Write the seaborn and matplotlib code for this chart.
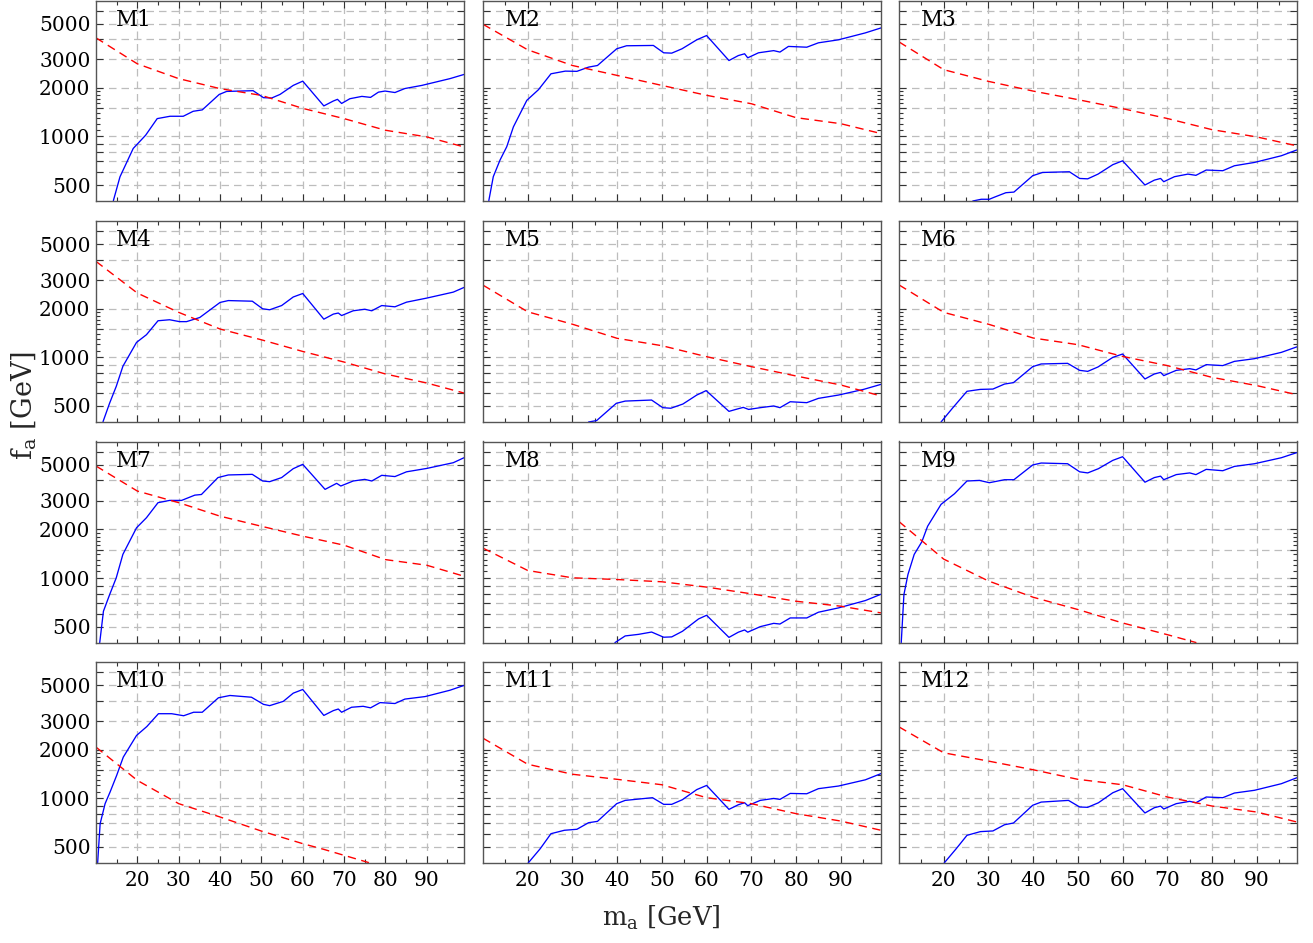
import matplotlib
matplotlib.use("Agg")
import matplotlib.pyplot as plt
import seaborn as sns
from matplotlib.ticker import FixedLocator, FixedFormatter, NullFormatter

sns.set_style("ticks")
plt.rcParams["font.family"] = ["DejaVu Serif"]
plt.rcParams["mathtext.fontset"] = "dejavuserif"

# ---------------- data ----------------
panel_names = ["M1", "M2", "M3", "M4", "M5", "M6", "M7", "M8", "M9", "M10", "M11", "M12"]

# blue solid curves
ma_M1 = [14.2, 15.8, 19.0, 22.0, 24.8, 27.9, 31.1, 33.5, 35.7, 39.8, 41.6, 48.0, 50.5, 52.5, 54.5, 57.7, 60.0,
         65.1, 67.4, 68.4, 69.4, 71.4, 74.3, 76.4, 78.3, 79.9, 82.3, 84.7, 88.8, 95.6, 99.0]
fa_M1 = [400, 562, 842, 1017, 1289, 1333, 1333, 1431, 1460, 1820, 1900, 1920, 1738, 1730, 1820, 2070, 2200,
         1545, 1657, 1697, 1600, 1712, 1770, 1745, 1880, 1910, 1870, 1980, 2070, 2280, 2420]

ma_M2 = [11.3, 12.3, 13.8, 15.3, 16.8, 19.8, 22.4, 25.2, 28.4, 31.0, 33.6, 35.6, 39.9, 42.1, 48.1, 50.4, 52.2,
         54.5, 57.8, 60.0, 65.0, 67.1, 68.5, 69.2, 71.6, 75.0, 76.4, 78.3, 82.4, 85.0, 89.5, 95.5, 99.0]
fa_M2 = [400, 563, 713, 862, 1146, 1673, 1947, 2443, 2538, 2530, 2687, 2750, 3490, 3644, 3660, 3296, 3280,
         3490, 3967, 4216, 2952, 3169, 3250, 3068, 3296, 3400, 3330, 3610, 3570, 3800, 3967, 4379, 4700]

ma_M3 = [26.5, 28.4, 30.2, 31.3, 33.9, 35.7, 39.9, 42.1, 48.1, 50.4, 52.2, 54.5, 57.8, 60.0, 65.0, 67.1, 68.5,
         69.2, 71.6, 74.6, 76.4, 78.7, 82.4, 85.0, 89.5, 95.5, 99.0]
fa_M3 = [398, 408, 408, 420, 448, 452, 571, 598, 604, 549, 546, 584, 668, 706, 500, 536, 549,
         524, 563, 584, 574, 619, 613, 658, 690, 759, 825]

ma_M4 = [11.7, 13.3, 14.9, 16.5, 19.8, 22.2, 25.0, 27.8, 30.2, 31.9, 35.1, 40.0, 42.0, 47.8, 50.3, 52.0, 54.9,
         57.7, 60.0, 65.1, 67.4, 68.6, 69.4, 72.2, 75.0, 76.7, 79.1, 82.3, 85.1, 90.0, 96.4, 99.0]
fa_M4 = [400, 521, 661, 879, 1235, 1378, 1681, 1705, 1660, 1660, 1761, 2181, 2240, 2220, 1993, 1965, 2087,
         2357, 2477, 1719, 1848, 1876, 1810, 1937, 1980, 1937, 2087, 2050, 2190, 2321, 2526, 2700]

ma_M5 = [33.6, 35.4, 39.8, 41.8, 47.7, 50.2, 52.0, 54.7, 57.8, 59.9, 65.0, 67.0, 68.2, 69.4, 72.0, 75.0, 76.4,
         78.7, 82.4, 85.0, 89.5, 95.1, 99.0]
fa_M5 = [398, 406, 519, 536, 544, 488, 484, 514, 584, 622, 463, 480, 490, 476, 488, 500, 488,
         531, 524, 557, 584, 633, 680]

ma_M6 = [19.4, 22.0, 25.2, 28.2, 31.0, 33.6, 35.6, 39.9, 41.8, 47.7, 50.4, 52.2, 54.5, 57.8, 60.0, 65.0, 67.1,
         68.5, 69.2, 72.0, 75.0, 76.4, 78.7, 82.4, 85.0, 89.5, 95.5, 99.0]
fa_M6 = [398, 486, 616, 633, 636, 683, 697, 875, 909, 917, 830, 818, 871, 998, 1047, 734, 788,
         806, 770, 830, 850, 835, 900, 888, 943, 980, 1072, 1160]

ma_M7 = [10.9, 11.8, 13.3, 14.9, 16.5, 19.8, 22.2, 25.0, 27.8, 30.7, 33.9, 35.5, 39.5, 42.0, 47.8, 50.3, 52.0,
         54.9, 57.7, 60.0, 65.4, 68.2, 69.2, 72.2, 75.0, 76.7, 79.1, 82.3, 85.1, 90.0, 96.4, 99.0]
fa_M7 = [400, 625, 791, 1004, 1400, 2042, 2355, 2917, 3012, 3012, 3246, 3276, 4165, 4323, 4360, 3967, 3930,
         4165, 4726, 5024, 3523, 3838, 3695, 3967, 4060, 3967, 4300, 4225, 4520, 4743, 5143, 5520]

ma_M8 = [39.5, 41.8, 44.8, 47.7, 50.4, 52.2, 54.6, 58.2, 60.0, 65.0, 67.1, 68.5, 69.2, 72.0, 75.0, 76.4, 78.7,
         82.4, 85.0, 89.5, 95.5, 99.0]
fa_M8 = [400, 440, 450, 465, 432, 434, 470, 560, 590, 431, 464, 479, 464, 502, 526, 521, 568,
         568, 616, 655, 727, 795]

ma_M9 = [10.5, 11.1, 12.0, 13.4, 15.1, 16.4, 19.4, 22.4, 25.2, 28.0, 30.2, 33.6, 35.7, 39.9, 41.8, 47.7, 50.4,
         52.2, 54.6, 57.8, 60.0, 65.0, 67.1, 68.5, 69.2, 72.0, 75.0, 76.4, 78.7, 82.4, 85.0, 89.5, 95.5, 99.0]
fa_M9 = [400, 791, 1052, 1400, 1673, 2087, 2847, 3309, 3967, 4000, 3872, 4040, 4040, 4980, 5120, 5070, 4520,
         4450, 4726, 5316, 5600, 3900, 4165, 4250, 4040, 4344, 4450, 4344, 4680, 4590, 4880, 5070, 5520, 5940]

ma_M10 = [10.4, 11.0, 12.2, 13.4, 15.0, 16.6, 19.8, 22.3, 25.1, 28.3, 31.2, 33.6, 35.7, 39.6, 42.4, 47.6, 50.5,
          52.0, 55.3, 57.7, 60.0, 65.1, 67.4, 68.6, 69.4, 71.8, 74.6, 76.4, 78.7, 82.3, 84.7, 89.6, 95.6, 99.0]
fa_M10 = [400, 696, 926, 1092, 1385, 1796, 2443, 2775, 3330, 3330, 3235, 3400, 3400, 4176, 4316, 4210, 3805,
          3735, 3970, 4460, 4700, 3250, 3480, 3560, 3400, 3650, 3700, 3620, 3900, 3850, 4100, 4250, 4650, 4980]

ma_M11 = [20.1, 22.8, 25.2, 28.2, 31.0, 33.6, 35.6, 39.9, 41.8, 47.9, 50.4, 52.2, 54.6, 57.8, 60.0, 65.0, 67.1,
          68.5, 69.2, 72.0, 75.0, 76.4, 78.7, 82.4, 85.0, 89.5, 95.5, 99.0]
fa_M11 = [398, 488, 604, 634, 643, 706, 720, 926, 970, 1008, 917, 917, 980, 1131, 1200, 854, 912,
          938, 900, 970, 997, 984, 1071, 1066, 1146, 1190, 1300, 1420]

ma_M12 = [20.1, 22.8, 25.2, 28.2, 31.0, 33.6, 35.6, 39.9, 41.8, 47.9, 50.4, 52.2, 54.6, 57.8, 60.0, 65.0, 67.1,
          68.5, 69.2, 72.0, 75.0, 76.4, 78.7, 82.4, 85.0, 89.5, 95.5, 99.0]
fa_M12 = [398, 488, 590, 622, 628, 686, 703, 905, 947, 970, 883, 879, 938, 1081, 1146, 811, 874,
          894, 858, 926, 957, 938, 1018, 1008, 1077, 1120, 1230, 1340]

# red dashed curves
ma_red = [10, 20, 30, 40, 50, 60, 70, 80, 90, 99]
red_M1 = [4080, 2816, 2280, 1977, 1796, 1492, 1289, 1092, 993, 861]
red_M2 = [4950, 3440, 2750, 2387, 2070, 1797, 1594, 1307, 1199, 1042]
red_M3 = [3850, 2591, 2193, 1909, 1690, 1486, 1291, 1101, 993, 874]
red_M4 = [3911, 2492, 1894, 1494, 1282, 1086, 934, 788, 693, 601]
red_M5 = [2790, 1909, 1600, 1309, 1179, 1008, 875, 766, 674, 576]
red_M6 = [2800, 1894, 1600, 1315, 1196, 1012, 888, 751, 668, 587]
red_M7 = [4906, 3440, 2917, 2408, 2087, 1814, 1595, 1300, 1200, 1027]
red_M8 = [1530, 1114, 1004, 980, 949, 880, 800, 720, 671, 610]
ma_red_M9 = [10, 20, 30, 40, 50, 60, 70, 76.5]
red_M9 = [2230, 1309, 960, 762, 640, 529, 448, 400]
ma_red_M10 = [10, 20, 30, 40, 50, 60, 65, 76]
red_M10 = [2070, 1289, 926, 766, 627, 524, 484, 400]
red_M11 = [2350, 1622, 1407, 1309, 1212, 1008, 926, 803, 723, 634]
red_M12 = [2760, 1909, 1697, 1500, 1309, 1212, 1018, 895, 822, 713]

blue_x = [ma_M1, ma_M2, ma_M3, ma_M4, ma_M5, ma_M6, ma_M7, ma_M8, ma_M9, ma_M10, ma_M11, ma_M12]
blue_y = [fa_M1, fa_M2, fa_M3, fa_M4, fa_M5, fa_M6, fa_M7, fa_M8, fa_M9, fa_M10, fa_M11, fa_M12]
red_x = [ma_red] * 8 + [ma_red_M9, ma_red_M10, ma_red, ma_red]
red_y = [red_M1, red_M2, red_M3, red_M4, red_M5, red_M6, red_M7, red_M8, red_M9, red_M10, red_M11, red_M12]

x_major = [20, 30, 40, 50, 60, 70, 80, 90]
x_minor = [15, 25, 35, 45, 55, 65, 75, 85, 95]
y_grid = [500, 600, 700, 800, 900, 1000, 1500, 2000, 3000, 4000, 5000, 6000]
y_labels = ["500", "", "", "", "", "1000", "", "2000", "3000", "", "5000", ""]
y_minor = [1100, 1200, 1300, 1400, 1600, 1700, 1800, 1900]

# ---------------- layout ----------------
W, H = 1313, 943
fig = plt.figure(figsize=(W / 100, H / 100), dpi=100)
col_px = [(96, 464), (483, 881), (899, 1297)]
row_px = [(0.5, 201), (221, 422), (441.5, 643), (662, 863)]

for i, name in enumerate(panel_names):
    r, c = divmod(i, 3)
    l, rr = col_px[c]
    t, b = row_px[r]
    ax = fig.add_axes([l / W, 1 - b / H, (rr - l) / W, (b - t) / H])

    sns.lineplot(x=blue_x[i], y=blue_y[i], ax=ax, color=(0, 0, 1), lw=0.95,
                 sort=False, estimator=None)
    sns.lineplot(x=red_x[i], y=red_y[i], ax=ax, color=(1, 0, 0), lw=1.0,
                 sort=False, estimator=None)
    ax.lines[-1].set_dashes((6, 4))

    ax.set_yscale("log")
    ax.set_xlim(10, 99)
    ax.set_ylim(398, 6950)

    ax.xaxis.set_major_locator(FixedLocator(x_major))
    ax.xaxis.set_minor_locator(FixedLocator(x_minor))
    ax.yaxis.set_major_locator(FixedLocator(y_grid))
    ax.yaxis.set_minor_locator(FixedLocator(y_minor))
    ax.yaxis.set_minor_formatter(NullFormatter())
    ax.xaxis.set_minor_formatter(NullFormatter())
    if c == 0:
        ax.yaxis.set_major_formatter(FixedFormatter(y_labels))
    else:
        ax.yaxis.set_major_formatter(NullFormatter())
    if r == 3:
        ax.xaxis.set_major_formatter(FixedFormatter([str(v) for v in x_major]))
    else:
        ax.xaxis.set_major_formatter(NullFormatter())

    ax.grid(True, which="major", color="#bdbdbd", lw=0.9, linestyle=(0, (6, 4)))
    ax.tick_params(which="both", direction="in", top=True, right=True,
                   color="#333333", width=0.8, labelsize=14.5, labelcolor="black")
    ax.tick_params(which="major", length=5)
    ax.tick_params(which="minor", length=3)
    ax.tick_params(axis="y", pad=4)
    ax.tick_params(axis="x", pad=6)
    for s in ax.spines.values():
        s.set_color("#555555")
        s.set_linewidth(1.0)
    ax.set_xlabel("")
    ax.set_ylabel("")

    ax.text(0.055, 0.96, name, transform=ax.transAxes, ha="left", va="top",
            fontsize=15.5, color="black")

fig.text(24 / W, 1 - 405 / H, r"$\mathrm{f_a}$ [GeV]", rotation=90,
         ha="center", va="center", fontsize=19.5)
fig.text(661 / W, 1 - 918 / H, r"$\mathrm{m_a}$ [GeV]",
         ha="center", va="center", fontsize=18.5)

fig.savefig("out.png", dpi=100)
